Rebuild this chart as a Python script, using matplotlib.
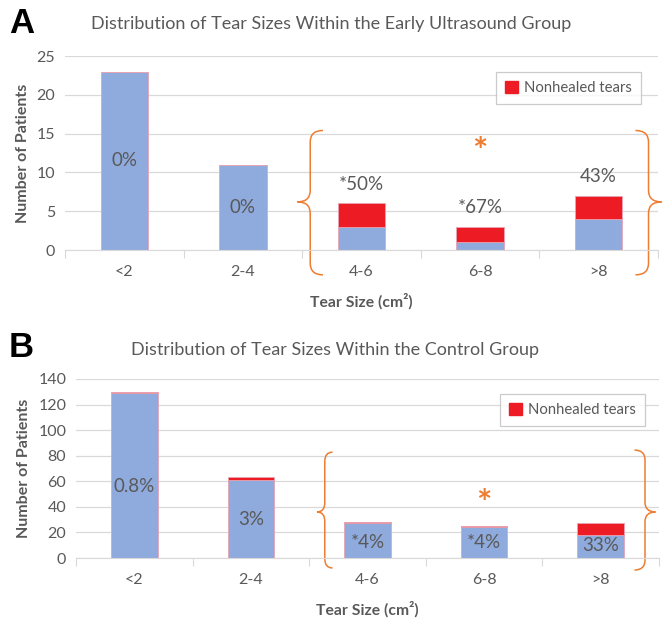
import matplotlib
import matplotlib.pyplot as plt
from matplotlib.path import Path
from matplotlib.patches import PathPatch, Patch

matplotlib.use("Agg")

categories = ["<2", "2-4", "4-6", "6-8", ">8"]

# early ultrasound group
a_healed = [23, 11, 3, 1, 4]
a_nonhealed = [0, 0, 3, 2, 3]
a_labels = ["0%", "0%", "*50%", "*67%", "43%"]

# control group
b_healed = [129, 61, 27, 24, 18]
b_nonhealed = [1, 2, 1, 1, 9]
b_labels = ["0.8%", "3%", "*4%", "*4%", "33%"]

BLUE = "#8FAADC"
RED = "#ED1C24"
ORANGE = "#ED7D31"
GRAY = "#595959"
FONT = ["Lato", "DejaVu Sans"]

plt.rcParams["font.family"] = FONT


def brace(ax, x_tip, x_end, y_bot, y_top, y_tip):
    x_mid = (x_tip + x_end) / 2
    r = (y_top - y_bot) * 0.08
    verts = [(x_end, y_top), (x_mid, y_top), (x_mid, y_top - r),
             (x_mid, y_tip + r),
             (x_mid, y_tip), (x_tip, y_tip),
             (x_mid, y_tip), (x_mid, y_tip - r),
             (x_mid, y_bot + r),
             (x_mid, y_bot), (x_end, y_bot)]
    codes = [Path.MOVETO, Path.CURVE3, Path.CURVE3,
             Path.LINETO,
             Path.CURVE3, Path.CURVE3,
             Path.CURVE3, Path.CURVE3,
             Path.LINETO,
             Path.CURVE3, Path.CURVE3]
    ax.add_patch(PathPatch(Path(verts, codes), fill=False, edgecolor=ORANGE,
                           lw=1.1, clip_on=False))


def panel(ax, healed, nonhealed, labels, ymax, ystep):
    x = range(len(categories))
    totals = [h + n for h, n in zip(healed, nonhealed)]
    ax.bar(x, healed, width=0.4, color=BLUE, edgecolor="#E8A3B3", lw=0.6, zorder=2)
    ax.bar(x, nonhealed, width=0.4, bottom=healed, color=RED, edgecolor="#E8A3B3",
           lw=0.6, zorder=2)
    ax.set_xlim(-0.5, len(categories) - 0.5)
    ax.set_ylim(0, ymax)
    ax.set_yticks(range(0, ymax + 1, ystep))
    ax.set_xticks(list(x))
    ax.set_xticklabels(categories)
    ax.set_xticks([i - 0.5 for i in range(len(categories) + 1)], minor=True)
    ax.tick_params(axis="x", which="major", length=0, pad=11, labelsize=11.5,
                   labelcolor=GRAY)
    ax.tick_params(axis="x", which="minor", length=6, color="#D9D9D9", width=0.8)
    ax.tick_params(axis="y", length=0, pad=7, labelsize=11.5, labelcolor=GRAY)
    ax.grid(axis="y", color="#D9D9D9", lw=0.9, zorder=0)
    ax.set_axisbelow(True)
    for s in ["top", "right", "left"]:
        ax.spines[s].set_visible(False)
    ax.spines["bottom"].set_color("#D9D9D9")
    ax.set_ylabel("Number of Patients", fontsize=11.5, fontweight="bold", color=GRAY,
                  labelpad=5)
    ax.set_xlabel("Tear Size (cm²)", fontsize=11.3, fontweight="bold", color=GRAY,
                  labelpad=10)
    leg = ax.legend(handles=[Patch(color=RED, label="Nonhealed tears")],
                    loc="upper right", fancybox=False, fontsize=10.7,
                    handlelength=0.9, handleheight=0.9, handletextpad=0.4,
                    borderpad=0.6, borderaxespad=0, labelcolor=GRAY)
    leg.get_frame().set_edgecolor("#BFBFBF")
    leg.get_frame().set_linewidth(0.9)
    return totals, leg


fig = plt.figure(figsize=(6.67, 6.25), dpi=100)

# panel A
ax1 = fig.add_axes([0.0975, 0.60, 0.889, 0.3104])
totals, leg = panel(ax1, a_healed, a_nonhealed, a_labels, 25, 5)
leg.set_bbox_to_anchor((0.971, 0.918), transform=ax1.transAxes)
for i, t in enumerate(totals):
    if a_nonhealed[i] == 0:
        ax1.text(i, t / 2, a_labels[i], ha="center", va="center", fontsize=13.5,
                 color=GRAY, zorder=3)
    else:
        ax1.text(i, t + 2.5, a_labels[i], ha="center", va="center", fontsize=13.5,
                 color=GRAY, zorder=3)
ax1.text(3, 12.6, "*", ha="center", va="center", fontsize=26, color=ORANGE,
         fontweight="bold")
brace(ax1, 1.46, 1.675, -3.2, 15.4, 6.2)
brace(ax1, 4.53, 4.31, -3.2, 15.4, 6.2)

# panel B
ax2 = fig.add_axes([0.114, 0.1072, 0.874, 0.2864])
totals, leg = panel(ax2, b_healed, b_nonhealed, b_labels, 140, 20)
leg.set_bbox_to_anchor((0.976, 0.916), transform=ax2.transAxes)
b_label_y = [56, 30, 12.5, 12.5, 9.5]
for i, lab in enumerate(b_labels):
    ax2.text(i, b_label_y[i], lab, ha="center", va="center", fontsize=13.5,
             color=GRAY, zorder=3)
ax2.text(3, 42, "*", ha="center", va="center", fontsize=26, color=ORANGE,
         fontweight="bold")
brace(ax2, 1.567, 1.70, -7.8, 82.8, 36)
brace(ax2, 4.47, 4.29, -9.4, 84.4, 36)

fig.text(0.496, 0.961, "Distribution of Tear Sizes Within the Early Ultrasound Group",
         ha="center", va="center", fontsize=13, color=GRAY)
fig.text(0.502, 0.44, "Distribution of Tear Sizes Within the Control Group",
         ha="center", va="center", fontsize=13, color=GRAY)
fig.text(0.013, 0.963, "A", ha="left", va="center", fontsize=25, fontweight="bold",
         family="Liberation Sans")
fig.text(0.013, 0.444, "B", ha="left", va="center", fontsize=25, fontweight="bold",
         family="Liberation Sans")

fig.savefig("out.png", dpi=100)
